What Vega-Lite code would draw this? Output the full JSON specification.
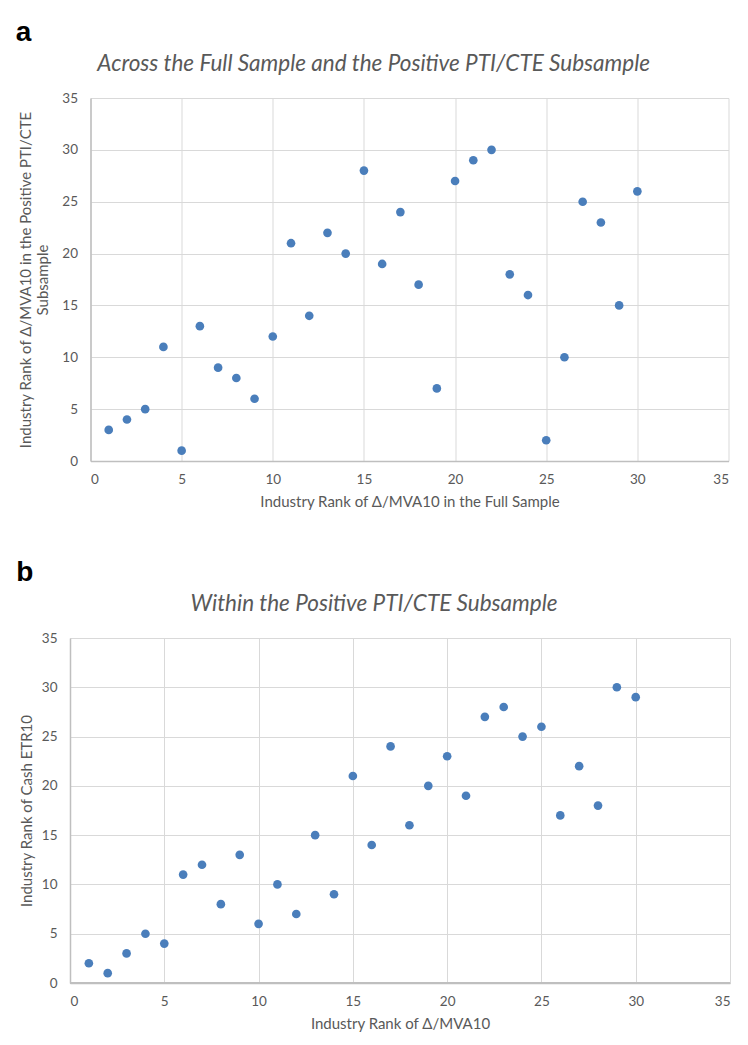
{
  "$schema": "https://vega.github.io/schema/vega-lite/v6.json",
  "padding": {"left": 15, "top": 18, "right": 0, "bottom": 4},
  "background": "white",
  "config": {
    "font": "Lato",
    "view": {"stroke": null},
    "axis": {
      "labelColor": "#595959",
      "labelFont": "Lato",
      "labelFontSize": 13.5,
      "titleColor": "#595959",
      "titleFont": "Lato",
      "titleFontSize": 15,
      "titleFontWeight": "normal",
      "titleLineHeight": 17,
      "gridColor": "#d9d9d9",
      "gridWidth": 1,
      "domainColor": "#bfbfbf",
      "domainWidth": 1.5,
      "ticks": false,
      "labelPadding": 13
    },
    "axisX": {"labelPadding": 11}
  },
  "datasets": {
    "a": [
      {"full": 1, "pos": 3}, {"full": 2, "pos": 4}, {"full": 3, "pos": 5}, {"full": 4, "pos": 11},
      {"full": 5, "pos": 1}, {"full": 6, "pos": 13}, {"full": 7, "pos": 9}, {"full": 8, "pos": 8},
      {"full": 9, "pos": 6}, {"full": 10, "pos": 12}, {"full": 11, "pos": 21}, {"full": 12, "pos": 14},
      {"full": 13, "pos": 22}, {"full": 14, "pos": 20}, {"full": 15, "pos": 28}, {"full": 16, "pos": 19},
      {"full": 17, "pos": 24}, {"full": 18, "pos": 17}, {"full": 19, "pos": 7}, {"full": 20, "pos": 27},
      {"full": 21, "pos": 29}, {"full": 22, "pos": 30}, {"full": 23, "pos": 18}, {"full": 24, "pos": 16},
      {"full": 25, "pos": 2}, {"full": 26, "pos": 10}, {"full": 27, "pos": 25}, {"full": 28, "pos": 23},
      {"full": 29, "pos": 15}, {"full": 30, "pos": 26}
    ],
    "b": [
      {"mva": 1, "etr": 2}, {"mva": 2, "etr": 1}, {"mva": 3, "etr": 3}, {"mva": 4, "etr": 5},
      {"mva": 5, "etr": 4}, {"mva": 6, "etr": 11}, {"mva": 7, "etr": 12}, {"mva": 8, "etr": 8},
      {"mva": 9, "etr": 13}, {"mva": 10, "etr": 6}, {"mva": 11, "etr": 10}, {"mva": 12, "etr": 7},
      {"mva": 13, "etr": 15}, {"mva": 14, "etr": 9}, {"mva": 15, "etr": 21}, {"mva": 16, "etr": 14},
      {"mva": 17, "etr": 24}, {"mva": 18, "etr": 16}, {"mva": 19, "etr": 20}, {"mva": 20, "etr": 23},
      {"mva": 21, "etr": 19}, {"mva": 22, "etr": 27}, {"mva": 23, "etr": 28}, {"mva": 24, "etr": 25},
      {"mva": 25, "etr": 26}, {"mva": 26, "etr": 17}, {"mva": 27, "etr": 22}, {"mva": 28, "etr": 18},
      {"mva": 29, "etr": 30}, {"mva": 30, "etr": 29}
    ]
  },
  "center": true,
  "spacing": 48,
  "vconcat": [
    {
      "title": {"text": "a", "anchor": "start", "frame": "bounds", "font": "Liberation Sans", "fontSize": 28, "fontWeight": "bold", "color": "black", "offset": 6, "dx": -3},
      "vconcat": [
        {
          "width": 638,
          "height": 363,
          "title": {"text": "Across the Full Sample and the Positive PTI/CTE Subsample", "anchor": "middle", "frame": "bounds", "font": "Lato", "fontStyle": "italic", "fontSize": 22.5, "fontWeight": "normal", "color": "#595959", "offset": 16},
          "data": {"name": "a"},
          "mark": {"type": "circle", "size": 75, "color": "#4a7ebb", "opacity": 1},
          "encoding": {
            "x": {
              "field": "full", "type": "quantitative",
              "scale": {"domain": [0, 35], "nice": false},
              "axis": {"values": [0, 5, 10, 15, 20, 25, 30, 35], "title": "Industry Rank of Δ/MVA10 in the Full Sample", "titlePadding": 9}
            },
            "y": {
              "field": "pos", "type": "quantitative",
              "scale": {"domain": [0, 35], "nice": false},
              "axis": {"values": [0, 5, 10, 15, 20, 25, 30, 35], "title": ["Industry Rank of Δ/MVA10 in the Positive PTI/CTE", "Subsample"], "titlePadding": 11}
            }
          }
        }
      ]
    },
    {
      "title": {"text": "b", "anchor": "start", "frame": "bounds", "font": "Liberation Sans", "fontSize": 28, "fontWeight": "bold", "color": "black", "offset": 6, "dx": -3},
      "vconcat": [
        {
          "width": 660,
          "height": 345,
          "title": {"text": "Within the Positive PTI/CTE Subsample", "anchor": "middle", "frame": "group", "font": "Lato", "fontStyle": "italic", "fontSize": 22.5, "fontWeight": "normal", "color": "#595959", "offset": 16, "dx": -26},
          "data": {"name": "b"},
          "resolve": {"axis": {"y": "independent"}},
          "layer": [
            {
              "mark": {"type": "circle", "size": 75, "color": "#4a7ebb", "opacity": 1},
              "encoding": {
                "x": {
                  "field": "mva", "type": "quantitative",
                  "scale": {"domain": [0, 35], "nice": false},
                  "axis": {"values": [0, 5, 10, 15, 20, 25, 30, 35], "title": "Industry Rank of Δ/MVA10", "titlePadding": 9}
                },
                "y": {
                  "field": "etr", "type": "quantitative",
                  "scale": {"domain": [0, 35], "nice": false},
                  "axis": {"values": [0, 5, 10, 15, 20, 25, 30, 35], "title": "Industry Rank of Cash ETR10", "titlePadding": 7}
                }
              }
            },
            {
              "mark": {"type": "rule", "color": "#bfbfbf", "strokeWidth": 1.5},
              "encoding": {
                "y": {
                  "datum": 0, "type": "quantitative",
                  "axis": {"orient": "right", "offset": 19, "labels": false, "ticks": false, "grid": false, "title": null, "domainColor": "white", "domainWidth": 1}
                }
              }
            }
          ]
        }
      ]
    }
  ]
}
